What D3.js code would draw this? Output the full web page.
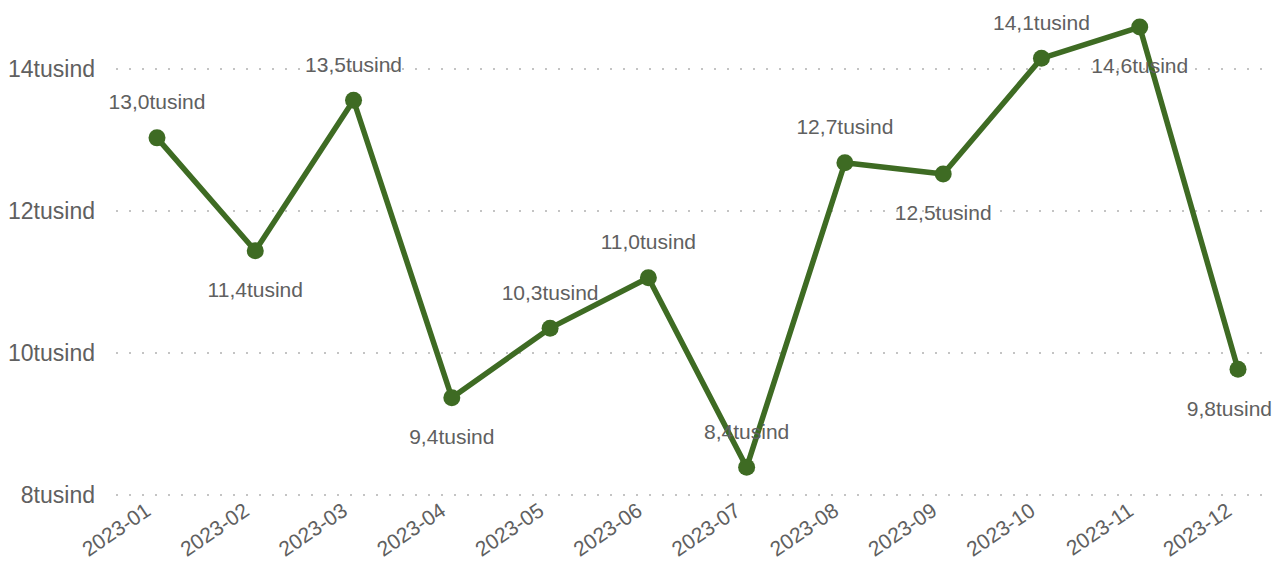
<!DOCTYPE html>
<html>
<head>
<meta charset="utf-8">
<script src="https://cdn.jsdelivr.net/npm/d3@7"></script>
<style>
  body { margin: 0; background: #fff; }
  text { font-family: "Liberation Sans", Arial, sans-serif; }
</style>
</head>
<body>
<div id="chart"></div>
<script>
var months = ["2023-01","2023-02","2023-03","2023-04","2023-05","2023-06","2023-07","2023-08","2023-09","2023-10","2023-11","2023-12"];
var values = [13.03, 11.44, 13.56, 9.37, 10.35, 11.06, 8.39, 12.68, 12.52, 14.15, 14.59, 9.77];
var labels = ["13,0","11,4","13,5","9,4","10,3","11,0","8,4","12,7","12,5","14,1","14,6","9,8"];
var labelSide = ["up","down","up","down","up","up","up","up","down","up","down","down"];
var yTicks = [8, 10, 12, 14];

var width = 1279, height = 563;

var svg = d3.select("#chart").append("svg")
  .attr("width", width)
  .attr("height", height);

var x = d3.scalePoint().domain(months).range([157, 1238]);
var y = d3.scaleLinear().domain([8, 14]).range([495, 69]);

// dotted gridlines
svg.append("g").selectAll("line")
  .data(yTicks)
  .enter().append("line")
  .attr("x1", 116).attr("x2", 1272)
  .attr("y1", function (d) { return y(d); })
  .attr("y2", function (d) { return y(d); })
  .attr("stroke", "#c4c4c4")
  .attr("stroke-width", 2)
  .attr("stroke-dasharray", "2,11");

// y axis labels
var yAxis = svg.append("g").attr("transform", "translate(95,0)")
  .call(d3.axisLeft(y).tickValues(yTicks).tickSize(0).tickPadding(0)
    .tickFormat(function (d) { return d + "tusind"; }));
yAxis.select(".domain").remove();
yAxis.selectAll("text")
  .style("font-family", "Liberation Sans, Arial, sans-serif")
  .style("font-size", "23px")
  .attr("fill", "#606060");

// x axis labels
var xAxis = svg.append("g").attr("transform", "translate(0,503)")
  .call(d3.axisBottom(x).tickSize(0).tickPadding(0));
xAxis.select(".domain").remove();
xAxis.selectAll("text")
  .style("font-family", "Liberation Sans, Arial, sans-serif")
  .style("font-size", "21px")
  .attr("fill", "#606060")
  .attr("text-anchor", "end")
  .attr("dy", "0.75em")
  .attr("transform", "translate(-14,-2) rotate(-34)");

// line
svg.append("path")
  .datum(values)
  .attr("fill", "none")
  .attr("stroke", "#3e6b23")
  .attr("stroke-width", 5.5)
  .attr("stroke-linejoin", "round")
  .attr("d", d3.line()
    .x(function (d, i) { return x(months[i]); })
    .y(function (d) { return y(d); }));

// points
svg.append("g").selectAll("circle")
  .data(values)
  .enter().append("circle")
  .attr("cx", function (d, i) { return x(months[i]); })
  .attr("cy", function (d) { return y(d); })
  .attr("r", 8.5)
  .attr("fill", "#3e6b23");

// data labels (kept inside the right edge)
svg.append("g").selectAll("text")
  .data(values)
  .enter().append("text")
  .attr("x", function (d, i) { return x(months[i]); })
  .attr("y", function (d, i) { return y(d) + (labelSide[i] === "up" ? -36 : 39); })
  .attr("dy", "0.35em")
  .attr("text-anchor", "middle")
  .style("font-size", "21px")
  .attr("fill", "#606060")
  .text(function (d, i) { return labels[i] + "tusind"; })
  .each(function () {
    var t = d3.select(this);
    var w = this.getComputedTextLength();
    var cx = +t.attr("x");
    if (cx + w / 2 > width - 7) t.attr("x", width - 7 - w / 2);
  });
</script>
</body>
</html>
